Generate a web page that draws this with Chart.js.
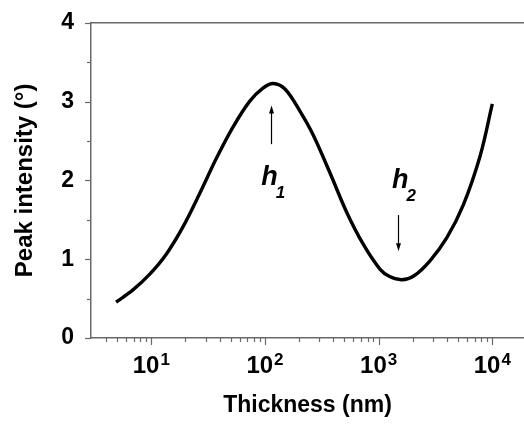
<!DOCTYPE html>
<html>
<head>
<meta charset="utf-8">
<script src="https://cdn.jsdelivr.net/npm/chart.js@4.4.1/dist/chart.umd.min.js"></script>
<style>
  html, body { margin: 0; padding: 0; background: #fff; }
  #wrap { width: 524px; height: 425px; }
</style>
</head>
<body>
<div id="wrap"><canvas id="chart"></canvas></div>
<script>
// ── data ────────────────────────────────────────────────────────────────────
const thickness = [4.9, 6.9, 9.7, 13.5, 19, 26.6, 37.4, 52, 73, 96, 118, 150, 203, 265, 372, 522, 732, 1026, 1250, 1600, 2050, 2830, 3970, 5560, 7810, 10000];
const intensity = [0.455, 0.61, 0.81, 1.06, 1.41, 1.83, 2.28, 2.67, 3.0, 3.17, 3.23, 3.16, 2.88, 2.58, 2.10, 1.60, 1.19, 0.875, 0.78, 0.74, 0.79, 0.98, 1.27, 1.69, 2.31, 2.97];

const xMajorTicks = [10, 100, 1000, 10000];
const xExponents  = ['1', '2', '3', '4'];
const xMinorTicks = [4, 5, 6, 7, 8, 9, 20, 30, 40, 50, 60, 70, 80, 90,
                     200, 300, 400, 500, 600, 700, 800, 900,
                     2000, 3000, 4000, 5000, 6000, 7000, 8000, 9000];
const yTicks = [0, 0.5, 1, 1.5, 2, 2.5, 3, 3.5, 4];

// peak / valley markers (data units)
const markLabels  = ['h', 'h'];
const markSubs    = ['1', '2'];
const markTextX   = [92.7, 1310];
const markTextY   = [1.94, 1.90];
const markArrowX  = [112, 1490];
const markArrowY0 = [2.46, 1.56];
const markArrowY1 = [2.95, 1.10];

// ── styling ─────────────────────────────────────────────────────────────────
const FONT = "'Liberation Sans', Arial, sans-serif";
const AXIS_COLOR = '#6a6a6a';

const extras = {
  id: 'extras',
  afterDraw(chart) {
    const { ctx, chartArea } = chart;
    const xs = chart.scales.x, ys = chart.scales.y;
    ctx.save();

    // top frame line
    ctx.strokeStyle = AXIS_COLOR;
    ctx.lineWidth = 1.5;
    ctx.beginPath();
    ctx.moveTo(chartArea.left, chartArea.top);
    ctx.lineTo(chartArea.right, chartArea.top);
    ctx.stroke();

    // x tick marks (outward)
    ctx.lineWidth = 1.2;
    const yb = chartArea.bottom;
    const tick = (x, len) => { ctx.beginPath(); ctx.moveTo(x, yb); ctx.lineTo(x, yb + len); ctx.stroke(); };
    xMinorTicks.forEach(v => tick(Math.round(xs.getPixelForValue(v)) + 0.5, 4));
    xMajorTicks.forEach(v => tick(Math.round(xs.getPixelForValue(v)) + 0.5, 7));

    // y tick marks (outward)
    const xl = chartArea.left;
    yTicks.forEach(v => {
      const y = Math.round(ys.getPixelForValue(v)) + 0.5;
      const len = Number.isInteger(v) ? 6 : 4;
      ctx.beginPath(); ctx.moveTo(xl, y); ctx.lineTo(xl - len, y); ctx.stroke();
    });

    // x tick labels 10^n
    ctx.fillStyle = '#000';
    ctx.textBaseline = 'alphabetic';
    ctx.textAlign = 'left';
    xMajorTicks.forEach((v, i) => {
      const x = xs.getPixelForValue(v);
      ctx.font = `bold 24px ${FONT}`;
      const wBase = ctx.measureText('10').width;
      ctx.font = `bold 17px ${FONT}`;
      const wExp = ctx.measureText(xExponents[i]).width;
      const x0 = x - (wBase + wExp + 1) / 2;
      ctx.font = `bold 24px ${FONT}`;
      ctx.fillText('10', x0, yb + 35);
      ctx.font = `bold 17px ${FONT}`;
      ctx.fillText(xExponents[i], x0 + wBase + 1, yb + 27);
    });

    // h1 / h2 markers
    markLabels.forEach((lab, i) => {
      const ax = Math.round(xs.getPixelForValue(markArrowX[i])) + 0.5;
      const a0 = ys.getPixelForValue(markArrowY0[i]);
      const a1 = ys.getPixelForValue(markArrowY1[i]);
      const dir = Math.sign(a1 - a0);
      ctx.strokeStyle = '#000';
      ctx.lineWidth = 1.2;
      ctx.beginPath(); ctx.moveTo(ax, a0); ctx.lineTo(ax, a1 - dir * 6); ctx.stroke();
      ctx.fillStyle = '#000';
      ctx.beginPath();
      ctx.moveTo(ax, a1);
      ctx.lineTo(ax - 2.5, a1 - dir * 8);
      ctx.lineTo(ax + 2.5, a1 - dir * 8);
      ctx.closePath();
      ctx.fill();

      const tx = xs.getPixelForValue(markTextX[i]);
      const ty = ys.getPixelForValue(markTextY[i]);
      ctx.font = `italic bold 27px ${FONT}`;
      ctx.fillText(lab, tx, ty);
      const w = ctx.measureText(lab).width;
      ctx.font = `italic bold 17px ${FONT}`;
      ctx.fillText(markSubs[i], tx + w - 2, ty + 13);
    });

    ctx.restore();
  },
};

new Chart(document.getElementById('chart'), {
  type: 'line',
  data: {
    datasets: [{
      data: thickness.map((t, i) => ({ x: t, y: intensity[i] })),
      borderColor: '#000',
      borderWidth: 3.4,
      pointRadius: 0,
      fill: false,
      tension: 0.35,
    }],
  },
  options: {
    responsive: true,
    maintainAspectRatio: false,
    animation: false,
    layout: { padding: { top: 19, right: 0, left: 0, bottom: 0 } },
    plugins: { legend: { display: false }, tooltip: { enabled: false } },
    scales: {
      x: {
        type: 'logarithmic',
        min: 2.95,
        max: 19000,
        grid: { display: false },
        border: { display: true, color: AXIS_COLOR, width: 1.5 },
        ticks: { display: false },
        title: {
          display: true,
          text: 'Thickness (nm)',
          color: '#000',
          font: { family: FONT, size: 23, weight: 'bold' },
          padding: { top: 0, bottom: 6 },
        },
        afterFit: (s) => { s.height = 87; },
      },
      y: {
        type: 'linear',
        min: 0,
        max: 4,
        grid: { display: false },
        border: { display: true, color: AXIS_COLOR, width: 1.5 },
        ticks: {
          stepSize: 0.5,
          autoSkip: false,
          padding: 9,
          color: '#000',
          font: { family: FONT, size: 23, weight: 'bold' },
          callback: (v) => Number.isInteger(v) ? String(v) : '',
        },
        title: {
          display: true,
          text: 'Peak intensity (°)',
          color: '#000',
          font: { family: FONT, size: 24, weight: 'bold' },
          padding: { top: 11, bottom: 0 },
        },
        afterFit: (s) => { s.width = 91; },
      },
    },
  },
  plugins: [extras],
});
</script>
</body>
</html>
